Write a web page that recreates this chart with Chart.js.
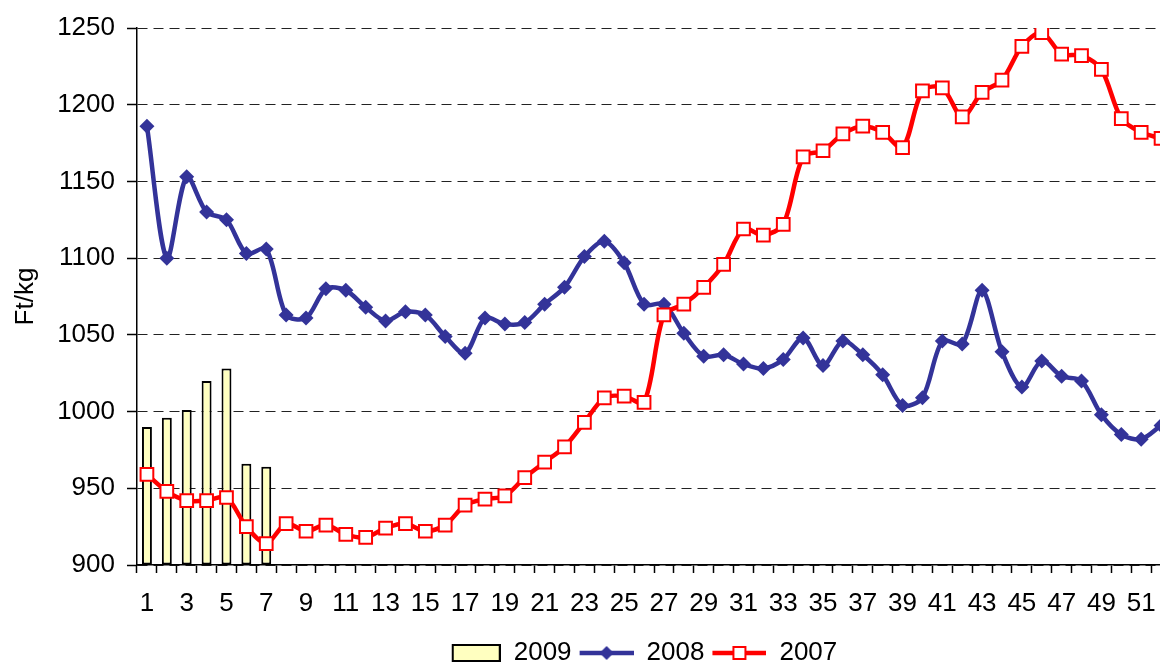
<!DOCTYPE html>
<html>
<head>
<meta charset="utf-8">
<title>Ft/kg 2007-2009</title>
<script src="https://cdn.jsdelivr.net/npm/chart.js"></script>
<style>
    html, body { margin: 0; padding: 0; background: #fff; overflow: hidden; }
    #moldura { width: 1160px; height: 663px; overflow: hidden; }
</style>
</head>
<body>
<div id="moldura">
    <canvas id="myChart" width="1182" height="676"></canvas>
</div>
<script>
var semanas = [];
for (var s = 1; s <= 52; s++) semanas.push(String(s));

var anos = ['2009', '2008', '2007'];

var valores2009 = [990, 996, 1001, 1020, 1028, 966, 964];

var valores2008 = [
    1186, 1100, 1153, 1130, 1125, 1103, 1106, 1063, 1061, 1080,
    1079, 1068, 1059, 1065, 1063, 1049, 1038, 1061, 1057, 1058,
    1070, 1081, 1101, 1111, 1097, 1070, 1070, 1051, 1036, 1037,
    1031, 1028, 1034, 1048, 1030, 1046, 1037, 1024, 1004, 1009,
    1046, 1044, 1079, 1039, 1016, 1033, 1023, 1020, 998, 985,
    982, 991
];

var valores2007 = [
    959, 948, 942, 942, 944, 925, 914, 927, 922, 926,
    920, 918, 924, 927, 922, 926, 939, 943, 945, 957,
    967, 977, 993, 1009, 1010, 1006, 1063, 1070, 1081, 1096,
    1119, 1115, 1122, 1166, 1170, 1181, 1186, 1182, 1172, 1209,
    1211, 1192, 1208, 1216, 1238, 1247, 1233, 1232, 1223, 1191,
    1182, 1178
];

var yMin = 900, yMax = 1250, yPasso = 50;

var AZUL = '#333399', VERMELHO = '#FF0000', AMARELO = '#FFFFC0';

Chart.defaults.font.family = "'Liberation Sans', Arial, sans-serif";
Chart.defaults.font.size = 26;
Chart.defaults.color = '#000';

document.addEventListener('DOMContentLoaded', function ()
{
    carregarGrafico();
});

// small images used as legend symbols
function simboloLegenda(tipo)
{
    var c = document.createElement('canvas');
    c.width = 62;
    c.height = 20;
    var ctx = c.getContext('2d');
    if (tipo === 'barra') {
        ctx.fillStyle = AMARELO;
        ctx.fillRect(14, 2, 47, 16);
        ctx.strokeStyle = '#000';
        ctx.lineWidth = 2;
        ctx.strokeRect(14, 2, 47, 16);
    } else {
        var cor = tipo === 'losango' ? AZUL : VERMELHO;
        ctx.strokeStyle = cor;
        ctx.lineWidth = 4.5;
        ctx.beginPath();
        ctx.moveTo(8, 10);
        ctx.lineTo(62, 10);
        ctx.stroke();
        if (tipo === 'losango') {
            ctx.fillStyle = AZUL;
            ctx.beginPath();
            ctx.moveTo(35, 3); ctx.lineTo(42, 10); ctx.lineTo(35, 17); ctx.lineTo(28, 10);
            ctx.closePath();
            ctx.fill();
        } else {
            ctx.fillStyle = '#fff';
            ctx.fillRect(29, 4, 12, 12);
            ctx.lineWidth = 2;
            ctx.strokeRect(29, 4, 12, 12);
        }
    }
    return c;
}

function carregarGrafico()
{
    var simbolos = [simboloLegenda('barra'), simboloLegenda('losango'), simboloLegenda('quadrado')];

    var chartData =
    {
        labels: semanas,
        datasets: [
            {
                type: 'bar',
                label: anos[0],
                data: valores2009,
                base: yMin,
                backgroundColor: AMARELO,
                borderColor: '#000',
                borderWidth: 2,
                borderSkipped: false,
                barPercentage: 0.5,
                categoryPercentage: 1,
                order: 3
            },
            {
                type: 'line',
                label: anos[1],
                data: valores2008,
                borderColor: AZUL,
                backgroundColor: AZUL,
                borderWidth: 4.5,
                tension: 0.3,
                pointStyle: 'rectRot',
                pointRadius: 7.5,
                pointBorderWidth: 0,
                pointBackgroundColor: AZUL,
                order: 2
            },
            {
                type: 'line',
                label: anos[2],
                data: valores2007,
                borderColor: VERMELHO,
                backgroundColor: '#fff',
                borderWidth: 4.5,
                tension: 0.3,
                pointStyle: 'rect',
                pointRadius: 9,
                pointBorderWidth: 2,
                pointBorderColor: VERMELHO,
                pointBackgroundColor: '#fff',
                order: 1
            }
        ]
    };

    var chartOptions =
    {
        responsive: false,
        animation: false,
        layout: { padding: { top: 28, right: 2, bottom: 0, left: 0 } },
        plugins: {
            tooltip: { enabled: false },
            legend: {
                position: 'bottom',
                fullSize: false,
                labels: {
                    usePointStyle: true,
                    pointStyleWidth: 62,
                    boxHeight: 26,
                    padding: 0,
                    font: { size: 26 },
                    color: '#000',
                    generateLabels: function (chart)
                    {
                        return anos.map(function (ano, i) {
                            return { text: ano, pointStyle: simbolos[i], datasetIndex: i, fillStyle: '#fff', strokeStyle: '#fff', lineWidth: 0 };
                        });
                    }
                }
            }
        },
        scales: {
            x: {
                type: 'category',
                offset: true,
                afterFit: function (scale) { scale.height = 75; },
                grid: {
                    offset: true,
                    drawOnChartArea: false,
                    drawTicks: true,
                    tickLength: 8,
                    tickColor: '#000',
                    tickWidth: 1.5
                },
                border: { display: true, color: '#000', width: 1.5 },
                ticks: {
                    autoSkip: false,
                    maxRotation: 0,
                    minRotation: 0,
                    padding: 15,
                    font: { size: 26 },
                    callback: function (val, i) { return i % 2 === 0 ? this.getLabelForValue(val) : ''; }
                }
            },
            y: {
                min: yMin,
                max: yMax,
                afterFit: function (scale) { scale.width = 137; },
                title: {
                    display: true,
                    text: 'Ft/kg',
                    font: { size: 26 },
                    padding: { top: 10, bottom: 0 }
                },
                grid: {
                    color: '#222',
                    lineWidth: 1,
                    tickLength: 10,
                    tickColor: '#000',
                    tickWidth: 1.5
                },
                border: { display: true, color: '#000', width: 1.5, dash: [10, 6] },
                ticks: {
                    stepSize: yPasso,
                    padding: 12,
                    font: { size: 26 },
                    callback: function (v) { return String(v); }
                }
            }
        }
    };

    new Chart(document.getElementById('myChart').getContext('2d'),
    {
        data: chartData,
        options: chartOptions,
        plugins: [{
            id: 'ajusteLegenda',
            afterUpdate: function (chart) {
                chart.legend.left -= 16;
                chart.legend.right -= 16;
            }
        }]
    });
}
</script>
</body>
</html>
